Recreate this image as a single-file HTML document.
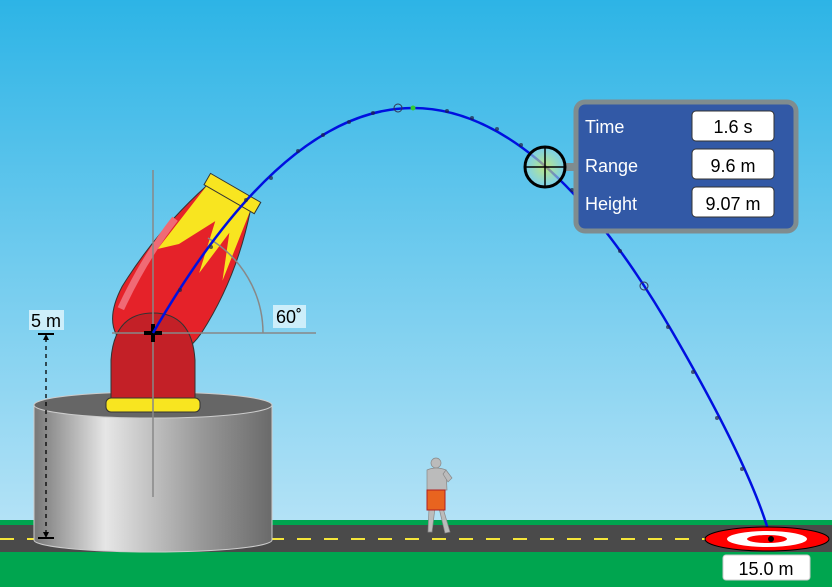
<!DOCTYPE html>
<html><head><style>body{margin:0}svg{display:block}text{font-family:"Liberation Sans",sans-serif}</style></head><body>
<svg width="832" height="587" viewBox="0 0 832 587" xmlns="http://www.w3.org/2000/svg">
<defs>
<linearGradient id="sky" x1="0" y1="0" x2="0" y2="1"><stop offset="0" stop-color="#2db4e6"/><stop offset="1" stop-color="#b3e2f6"/></linearGradient>
<linearGradient id="cyl" x1="0" y1="0" x2="1" y2="0"><stop offset="0" stop-color="#777"/><stop offset="0.3" stop-color="#e6e6e6"/><stop offset="0.7" stop-color="#999"/><stop offset="1" stop-color="#6a6a6a"/></linearGradient>
<radialGradient id="glow"><stop offset="0" stop-color="#ffff40"/><stop offset="1" stop-color="#8fd8f0"/></radialGradient>
</defs>
<rect width="832" height="522" fill="url(#sky)"/>
<rect y="520" width="832" height="67" fill="#00a54f"/>
<rect y="525" width="832" height="27" fill="#4a4a4a"/>
<line x1="0" y1="539" x2="832" y2="539" stroke="#f5e63a" stroke-width="2" stroke-dasharray="14,13"/>
<path d="M34 405 L34 540 A119 12 0 0 0 272 540 L272 405 Z" fill="url(#cyl)" stroke="#ccc"/>
<ellipse cx="153" cy="405" rx="119" ry="13" fill="#666" stroke="#ccc"/>
<!-- barrel -->
<g transform="translate(153,333) rotate(-60)">
<path d="M-25 -10 Q-25 -48 25 -50 Q90 -48 155 -27 L155 23 Q90 45 25 42 Q-25 38 -25 -10 Z" fill="#e52229" stroke="#333"/>
<path d="M75 -38 L155 -27 L155 23 L80 34 L125 16 L75 10 L128 -2 L90 -22 Z" fill="#f8e520"/>
<path d="M5 -40 Q60 -45 110 -38" stroke="#f06a75" stroke-width="7" fill="none"/>
<rect x="154" y="-30" width="13" height="58" fill="#f8e520" stroke="#333"/>
</g>
<!-- pedestal -->
<path d="M111 402 L111 360 Q114 313 153 313 Q192 313 195 360 L195 402 Z" fill="#c32027" stroke="#333"/>
<rect x="106" y="398" width="94" height="14" rx="5" fill="#f8e520" stroke="#333"/>
<!-- guides -->
<line x1="153" y1="170" x2="153" y2="497" stroke="#888" stroke-width="1.5"/>
<line x1="112" y1="333" x2="316" y2="333" stroke="#888" stroke-width="1.5"/>
<path d="M263 333 A110 110 0 0 0 208 238" fill="none" stroke="#888" stroke-width="1.5"/>
<path d="M144 333 h18 M153 324 v18" stroke="#000" stroke-width="4"/>
<rect x="273" y="305" width="33" height="23" fill="#cdeefa"/>
<text x="276" y="323" font-size="18">60˚</text>
<rect x="29" y="310" width="35" height="20" fill="#cdeefa"/>
<text x="31" y="327" font-size="18">5 m</text>
<line x1="38" y1="334" x2="54" y2="334" stroke="#000" stroke-width="2"/>
<line x1="38" y1="538" x2="54" y2="538" stroke="#000" stroke-width="2"/>
<line x1="46" y1="338" x2="46" y2="534" stroke="#000" stroke-width="1.3" stroke-dasharray="4,4"/>
<path d="M43 340 L46 334 L49 340 Z M43 532 L46 538 L49 532 Z"/>
<!-- man -->
<g fill="#bbb" stroke="#888" stroke-width="0.7">
<circle cx="436" cy="463" r="5"/>
<path d="M427 470 Q436 466 446 470 L447 490 L427 490 Z"/>
<path d="M429 508 L428 532 L432 532 L435 508 Z M439 508 L445 533 L450 532 L443 508 Z"/>
<path d="M446 470 L452 478 L448 482 L443 474 Z"/>
</g>
<rect x="427" y="490" width="18" height="20" fill="#e8641f" stroke="#b02020"/>
<!-- trajectory -->
<path d="M153 333 Q413 -117 673 333 Q753 471 771 540" fill="none" stroke="#0010e0" stroke-width="2.5"/>
<g fill="#224" opacity="0.7">
<circle cx="180" cy="290" r="2"/><circle cx="211" cy="247" r="2"/><circle cx="246" cy="200" r="2"/><circle cx="271" cy="178" r="2"/><circle cx="298" cy="151" r="2"/><circle cx="323" cy="135" r="2"/><circle cx="349" cy="122" r="2"/><circle cx="373" cy="113" r="2"/><circle cx="447" cy="111" r="2"/><circle cx="472" cy="118" r="2"/><circle cx="497" cy="129" r="2"/><circle cx="521" cy="145" r="2"/><circle cx="572" cy="190" r="2"/><circle cx="596" cy="218" r="2"/><circle cx="620" cy="251" r="2"/><circle cx="668" cy="327" r="2"/><circle cx="693" cy="372" r="2"/><circle cx="717" cy="418" r="2"/><circle cx="742" cy="469" r="2"/>
</g>
<circle cx="398" cy="108" r="4" fill="none" stroke="#335"/>
<circle cx="644" cy="286" r="4" fill="none" stroke="#335"/>
<circle cx="413" cy="108" r="2.5" fill="#3c3"/>
<rect x="565" y="163" width="12" height="8" fill="#7f8c8f"/>
<circle cx="545" cy="167" r="20" fill="url(#glow)" stroke="#000" stroke-width="3" fill-opacity="0.6"/>
<path d="M525 167 h40 M545 147 v40" stroke="#000" stroke-width="1.5"/>
<rect x="576" y="102" width="220" height="129" rx="9" fill="#3259a6" stroke="#7f8c8f" stroke-width="5"/>
<g fill="#fff" font-size="18"><text x="585" y="133">Time</text><text x="585" y="172">Range</text><text x="585" y="210">Height</text></g>
<g fill="#fff" stroke="#333"><rect x="692" y="111" width="82" height="30" rx="4"/><rect x="692" y="149" width="82" height="30" rx="4"/><rect x="692" y="187" width="82" height="30" rx="4"/></g>
<g font-size="18" text-anchor="middle"><text x="733" y="133">1.6 s</text><text x="733" y="172">9.6 m</text><text x="733" y="210">9.07 m</text></g>
<ellipse cx="767" cy="539" rx="62" ry="12" fill="#f00" stroke="#000"/>
<ellipse cx="767" cy="539" rx="40" ry="8" fill="#fff"/>
<ellipse cx="767" cy="539" rx="20" ry="4" fill="#f00"/>
<circle cx="771" cy="539" r="3" fill="#000"/>
<rect x="723" y="555" width="87" height="25" rx="3" fill="#fff" stroke="#ccc"/>
<text x="766" y="575" font-size="18" text-anchor="middle">15.0 m</text>
</svg>
</body></html>
